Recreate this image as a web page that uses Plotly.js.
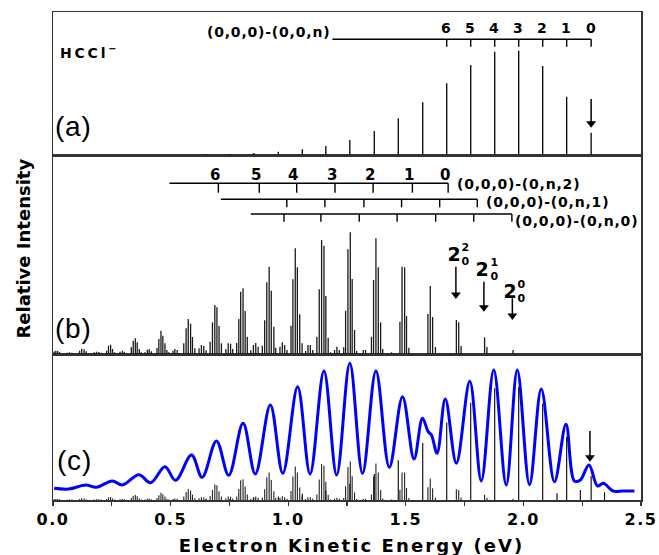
<!DOCTYPE html>
<html><head><meta charset="utf-8">
<script src="https://cdn.plot.ly/plotly-3.0.1.min.js"></script>
<style>
body{margin:0;background:#fff}
.annotation-text{letter-spacing:0.8px}
.xtick text{letter-spacing:1.5px}
</style>
</head><body><div id="chart" style="width:659px;height:555px"></div>
<script>
// ---------- data (energies in eV, intensities in arbitrary units) ----------
// (a) HCCl- stick spectrum, (0,0,0)-(0,0,n) progression
const aE = [2.288,2.184,2.082,1.980,1.878,1.776,1.674,1.572,1.468,1.366,1.262,1.160,1.060,0.958,0.854,0.752,0.650];
const aI = [22.3,58.3,89,104.3,103.3,90,71.7,52.7,36.7,24,15,9,5.7,3.3,2,1,0.7];
// (b) stick spectrum
const bE = [0.005,0.012,0.020,0.028, 0.060,0.070,0.080, 0.113,0.122,0.132,0.141, 0.175,0.185,0.195,0.205,
  0.228,0.236,0.245,0.253,0.262, 0.285,0.295,0.303, 0.333,0.341,0.350,0.358,0.367,0.375, 0.391,0.401,0.409,0.418,
  0.442,0.450,0.459,0.467,0.476,0.484,0.493, 0.510,0.518,0.528, 0.556,0.566,0.575,0.585,0.593,0.603,
  0.621,0.631,0.641,0.651, 0.668,0.678,0.688,0.697,0.706,0.716, 0.735,0.745,0.755,0.764,
  0.781,0.790,0.798,0.808,0.817,0.826, 0.841,0.852,0.862,0.872, 0.890,0.900,0.909,0.919,0.928,0.939,0.947,
  0.965,0.975,0.985,0.995, 1.012,1.020,1.030,1.039,1.049,1.059, 1.074,1.084,1.094,1.104,
  1.122,1.132,1.142,1.152,1.160,1.170,1.180, 1.197,1.207,1.217, 1.236,1.244,1.254,1.264,1.272,1.282,1.291,
  1.319,1.329, 1.354,1.363,1.373,1.383,1.393,1.402, 1.439,1.449, 1.475,1.484,1.495,1.503,1.513,
  1.594,1.604,1.614,1.626, 1.715,1.725,1.735, 1.835,1.845, 1.956];
const bI = [2.5,3.3,3,2, 1.3,1.7,1.3, 3.3,5.3,4.7,2.7, 1.7,2.3,2,1.3,
  3.3,8.3,9.3,5,1.7, 2.3,3.3,2.3, 6.7,13.3,15.7,11.7,5,1.7, 1.7,4.3,4.7,2.7,
  6,15,23.3,18.3,10.7,4,1.7, 3.3,5,4, 10.7,25.7,35,30.3,17,5.7,
  5.7,9,8,3.7, 12.3,31.7,49,46.7,28,10.7, 5,10.7,10.3,5,
  11,35,62.3,65.7,43,17.3, 3.7,9,11,7.3, 8.3,33.7,71.7,87.3,63.3,27.3,6.3,
  7.3,11.7,9,4, 28.3,74.7,105.7,86.7,39.7,10.7, 3,9,9,4,
  17.3,64.7,114,108.3,58,16.3,1.7, 4,7.3,4, 6.7,43.3,104.7,121.7,75,24,3,
  4,4, 17.3,74,115.7,86.7,31.7,5, 1.7,0.7, 32.3,87.3,86.7,38,6.3,
  40,68,37,7, 34,31.7,8, 16.7,7, 4];
// (c) additional weak sticks
const cE = [2.143,2.242,2.345];
const cI = [6.7,10,7.7];
// (c) blue simulated envelope
const curveE = [0.005,0.068,0.139,0.184,0.252,0.295,0.365,0.415,0.476,0.521,0.589,0.634,0.695,0.747,0.808,0.860,
  0.924,0.977,1.040,1.093,1.152,1.206,1.262,1.316,1.373,1.430,1.486,1.535,1.571,1.595,1.609,1.633,1.668,1.715,
  1.772,1.821,1.874,1.927,1.974,2.026,2.076,2.132,2.181,2.217,2.242,2.279,2.315,2.340,2.381,2.420,2.472];
const curveI = [11.7,11,15,12.7,19,15,25.3,17.3,33.3,19.7,45,22.7,59,24.7,76.7,26,
  95,26.7,113.3,26,129,25,136.7,26.7,129,32.7,103.3,41,81.7,68.3,65,46.7,101,36.7,
  118.7,19,130,15,130,15.3,111,18.3,75.7,19,20,35,14,16.7,9,9,9];
// progression markers
const prog00n = [2.288,2.184,2.082,1.980,1.878,1.776,1.674];
const prog0n2 = [1.680,1.528,1.361,1.199,1.036,0.877,0.703];
const prog0n1 = [1.804,1.644,1.482,1.322,1.156,0.994];
const prog0n0 = [1.951,1.789,1.627,1.463,1.302,1.139,0.982];
const progLabels = ['0','1','2','3','4','5','6'];
const hotBandE = [1.713,1.832,1.953];
const hotBandSup = ['2','1','0'];
const originE = 2.288;

// ---------- helpers ----------
const PT = 12, PB = 500, PH = PB - PT, PXEV = 235.6;
const py = y => (PB - y) / PH;            // pixel row -> paper fraction
function sticks(E, I){ const x=[], y=[]; E.forEach((e,i)=>{x.push(e,e,null); y.push(0,I[i],null);}); return {x,y}; }
const BOLD = {family:'DejaVu Sans', size:14, color:'#000', weight:'bold'};

const sa = sticks(aE,aI), sb = sticks(bE,bI), sc = sticks(cE,cI);
const traces = [
  {x:sa.x, y:sa.y, xaxis:'x3', yaxis:'y3', mode:'lines', line:{color:'#000', width:1.3}, hoverinfo:'skip'},
  {x:sb.x, y:sb.y, xaxis:'x2', yaxis:'y2', mode:'lines', line:{color:'#1a1a1a', width:1.3}, hoverinfo:'skip'},
  {x:curveE, y:curveI, xaxis:'x', yaxis:'y', mode:'lines', line:{color:'rgb(0,0,255)', width:3, shape:'spline', smoothing:1}, hoverinfo:'skip'},
  {x:sa.x, y:sa.y, xaxis:'x', yaxis:'y4', mode:'lines', line:{color:'#000', width:1.1}, hoverinfo:'skip'},
  {x:sb.x, y:sb.y, xaxis:'x', yaxis:'y5', mode:'lines', line:{color:'#222', width:1.1}, hoverinfo:'skip'},
  {x:sc.x, y:sc.y, xaxis:'x', yaxis:'y', mode:'lines', line:{color:'#000', width:1.1}, hoverinfo:'skip'}
];

const ann = [], shp = [], spacing = [];
function txt(x, y, text, o, ls){ if(ls !== undefined) spacing.push([ann.length, ls]);
  ann.push(Object.assign({xref:'x', yref:'paper', x, y:py(y), text, showarrow:false, borderpad:0,
  font:Object.assign({}, BOLD), xanchor:'center', yanchor:'middle'}, o||{})); }
function arrow(x, yTip, yTail){
  const hw = 5/PXEV, hl = 6.5;
  shp.push({type:'line', xref:'x', yref:'paper', x0:x, x1:x, y0:py(yTail), y1:py(yTip-hl+1), line:{color:'#000', width:1.5}});
  shp.push({type:'path', xref:'x', yref:'paper', path:`M${x-hw},${py(yTip-hl)} L${x+hw},${py(yTip-hl)} L${x},${py(yTip)} Z`,
    fillcolor:'#000', line:{width:0}});
}
function hline(x0, x1, y){ shp.push({type:'line', xref:'x', yref:'paper', x0, x1, y0:py(y), y1:py(y), line:{color:'#000', width:1.4}}); }
function vtick(x, y0, y1){ shp.push({type:'line', xref:'x', yref:'paper', x0:x, x1:x, y0:py(y0), y1:py(y1), line:{color:'#000', width:1.4}}); }

const REG = {family:'Liberation Sans', size:28, color:'#000'};
// panel (a)
txt(0.047, 52, 'HCCl<sup>−</sup>', {xanchor:'left', font:Object.assign({}, BOLD, {size:14})}, 2.8);
txt(0.006, 127, '(a)', {xanchor:'left', font:REG});
txt(1.18, 32, '(0,0,0)-(0,0,n)', {xanchor:'right'});
hline(1.188, prog00n[0], 39.3);
prog00n.forEach((e,i)=>{ vtick(e, 39.3, 46.7); txt(e, 28, progLabels[i]); });
arrow(originE, 127.7, 99);
// panel (b)
txt(0.006, 328, '(b)', {xanchor:'left', font:REG});
hline(0.495, prog0n2[0], 183.3);
prog0n2.forEach((e,i)=>{ vtick(e, 183.3, 192.7); txt(e-0.012, 175, progLabels[i], {font:Object.assign({}, BOLD, {size:15})}); });
hline(0.713, prog0n1[0], 199.3);
prog0n1.forEach(e=> vtick(e, 199.3, 207.3));
hline(0.841, prog0n0[0], 214);
prog0n0.forEach(e=> vtick(e, 214, 221.7));
txt(1.712, 184, '(0,0,0)-(0,n,2)', {xanchor:'left'});
txt(1.835, 202, '(0,0,0)-(0,n,1)', {xanchor:'left'});
txt(1.962, 221, '(0,0,0)-(0,n,0)', {xanchor:'left'});
const hbTip = [299, 311.7, 320], hbTail = [266.7, 281.7, 298.3];
const hbMainY = [254.3, 269.3, 291.3], hbMainDx = [-0.008, -0.006, -0.012];
hotBandE.forEach((e,i)=>{
  arrow(e, hbTip[i], hbTail[i]);
  txt(e+hbMainDx[i], hbMainY[i], '2', {font:Object.assign({}, BOLD, {size:19})}, 0);
  txt(e+hbMainDx[i]+0.027, hbMainY[i], hotBandSup[i] + '<br>0', {xanchor:'left', font:Object.assign({}, BOLD, {size:11})}, 0);
});
// panel (c)
txt(0.014, 460, '(c)', {xanchor:'left', font:REG});
arrow(2.283, 461.7, 431);
// axis titles
txt(1.27, 545, 'Electron Kinetic Energy (eV)', {font:Object.assign({}, BOLD, {size:18})}, 2.1);
spacing.push([ann.length, 0]);
ann.push({xref:'paper', yref:'paper', x:(23.3-52.6)/589, y:py(249), text:'Relative Intensity', textangle:-90,
  showarrow:false, font:Object.assign({}, BOLD, {size:18}), xanchor:'center', yanchor:'middle'});

// per-annotation letter spacing
const st = document.createElement('style');
st.textContent = spacing.map(([i, ls]) => `g.annotation[data-index="${i}"] text{letter-spacing:${ls}px}`).join('\n');
document.head.appendChild(st);

const AX = {showline:true, mirror:true, linecolor:'#333', linewidth:1.5, showgrid:false, zeroline:false};
const layout = {
  width:659, height:555, margin:{l:53, r:18, t:PT, b:555-PB}, paper_bgcolor:'#fff', plot_bgcolor:'#fff',
  showlegend:false,
  xaxis: Object.assign({}, AX, {anchor:'y', range:[0,2.5], tickmode:'linear', tick0:0, dtick:0.5, tickformat:'.1f',
    ticks:'outside', ticklen:4, tickwidth:1.2, tickcolor:'#333',
    minor:{dtick:0.25, ticks:'outside', ticklen:4, tickwidth:1.2, tickcolor:'#333', showgrid:false},
    tickfont:{family:'DejaVu Sans', size:16, color:'#000', weight:'bold'}}),
  xaxis2: Object.assign({}, AX, {anchor:'y2', range:[0,2.5], showticklabels:false, ticks:''}),
  xaxis3: Object.assign({}, AX, {anchor:'y3', range:[0,2.5], showticklabels:false, ticks:''}),
  yaxis: Object.assign({}, AX, {anchor:'x', domain:[0, py(354)], range:[0,146], showticklabels:false, ticks:''}),
  yaxis2: Object.assign({}, AX, {anchor:'x2', domain:[py(354), py(155)], range:[0,199], showticklabels:false, ticks:''}),
  yaxis3: Object.assign({}, AX, {anchor:'x3', domain:[py(155), 1], range:[0,143], showticklabels:false, ticks:''}),
  yaxis4: {overlaying:'y', anchor:'x', range:[0,135], visible:false},
  yaxis5: {overlaying:'y', anchor:'x', range:[0,462], visible:false},
  annotations: ann, shapes: shp
};
Plotly.newPlot('chart', traces, layout, {staticPlot:true}).then(gd => {
  // drop empty placeholder text nodes that Plotly leaves behind
  gd.querySelectorAll('text').forEach(t => { if (!t.textContent.trim()) t.remove(); });
});
</script></body></html>
